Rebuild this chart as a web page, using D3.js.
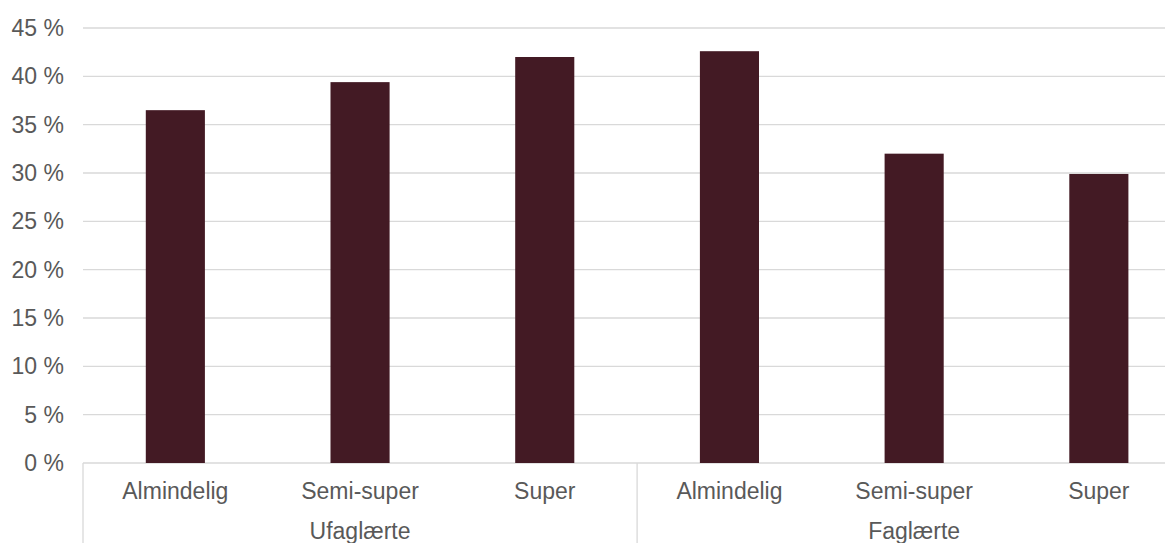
<!DOCTYPE html>
<html>
<head>
<meta charset="utf-8">
<script src="https://cdn.jsdelivr.net/npm/d3@7"></script>
<style>
  body { margin: 0; background: #fff; }
  svg text { font-family: "Liberation Sans", Arial, sans-serif; fill: #595959; }
  .grid line { stroke: #d9d9d9; stroke-width: 1.3; }
  .divider { stroke: #d9d9d9; stroke-width: 1.3; }
</style>
</head>
<body>
<svg id="chart" width="1165" height="543"></svg>
<script>
// data
const groups = ['Ufaglærte', 'Faglærte']
const categories = ['Almindelig', 'Semi-super', 'Super']
const values = [36.5, 39.4, 42.0, 42.6, 32.0, 29.9]
const yTicks = [0, 5, 10, 15, 20, 25, 30, 35, 40, 45]

const svg = d3.select('#chart')
const plotLeft = 83
const bandW = 184.7
const plotTop = 28
const plotBottom = 463

// one entry per bar: group + category
let rows = []
groups.forEach((g, gi) => {
  categories.forEach((c, ci) => {
    let i = gi * categories.length + ci
    rows.push({ key: i, group: g, cat: c, value: values[i] })
  })
})

const x = d3.scaleBand()
  .domain(rows.map(d => d.key))
  .range([plotLeft, plotLeft + bandW * rows.length])
  .paddingInner(0.68)
  .paddingOuter(0.34)

const y = d3.scaleLinear()
  .domain([0, 45])
  .range([plotBottom, plotTop])

// gridlines
let grid = svg.append('g').attr('class', 'grid')
grid.selectAll('line')
  .data(yTicks)
  .join('line')
  .attr('x1', plotLeft)
  .attr('x2', 1165)
  .attr('y1', d => y(d))
  .attr('y2', d => y(d))

// y labels
svg.append('g')
  .selectAll('text')
  .data(yTicks)
  .join('text')
  .attr('x', 64)
  .attr('y', d => y(d) + 8)
  .attr('text-anchor', 'end')
  .style('font-size', '23px')
  .text(d => d + ' %')

// bars
svg.append('g')
  .selectAll('rect')
  .data(rows)
  .join('rect')
  .attr('x', d => x(d.key))
  .attr('y', d => y(d.value))
  .attr('width', x.bandwidth())
  .attr('height', d => y(0) - y(d.value))
  .attr('fill', '#431a24')

// category labels
svg.append('g')
  .selectAll('text')
  .data(rows)
  .join('text')
  .attr('x', d => x(d.key) + x.bandwidth() / 2)
  .attr('y', 499)
  .attr('text-anchor', 'middle')
  .style('font-size', '23px')
  .text(d => d.cat)

// group labels and dividers
const groupW = bandW * categories.length
svg.append('g')
  .selectAll('text')
  .data(groups)
  .join('text')
  .attr('x', (d, i) => plotLeft + groupW * i + groupW / 2)
  .attr('y', 539)
  .attr('text-anchor', 'middle')
  .style('font-size', '23px')
  .text(d => d)

svg.append('g')
  .selectAll('line')
  .data(d3.range(groups.length + 1))
  .join('line')
  .attr('class', 'divider')
  .attr('x1', i => plotLeft + groupW * i)
  .attr('x2', i => plotLeft + groupW * i)
  .attr('y1', plotBottom)
  .attr('y2', 543)
</script>
</body>
</html>
